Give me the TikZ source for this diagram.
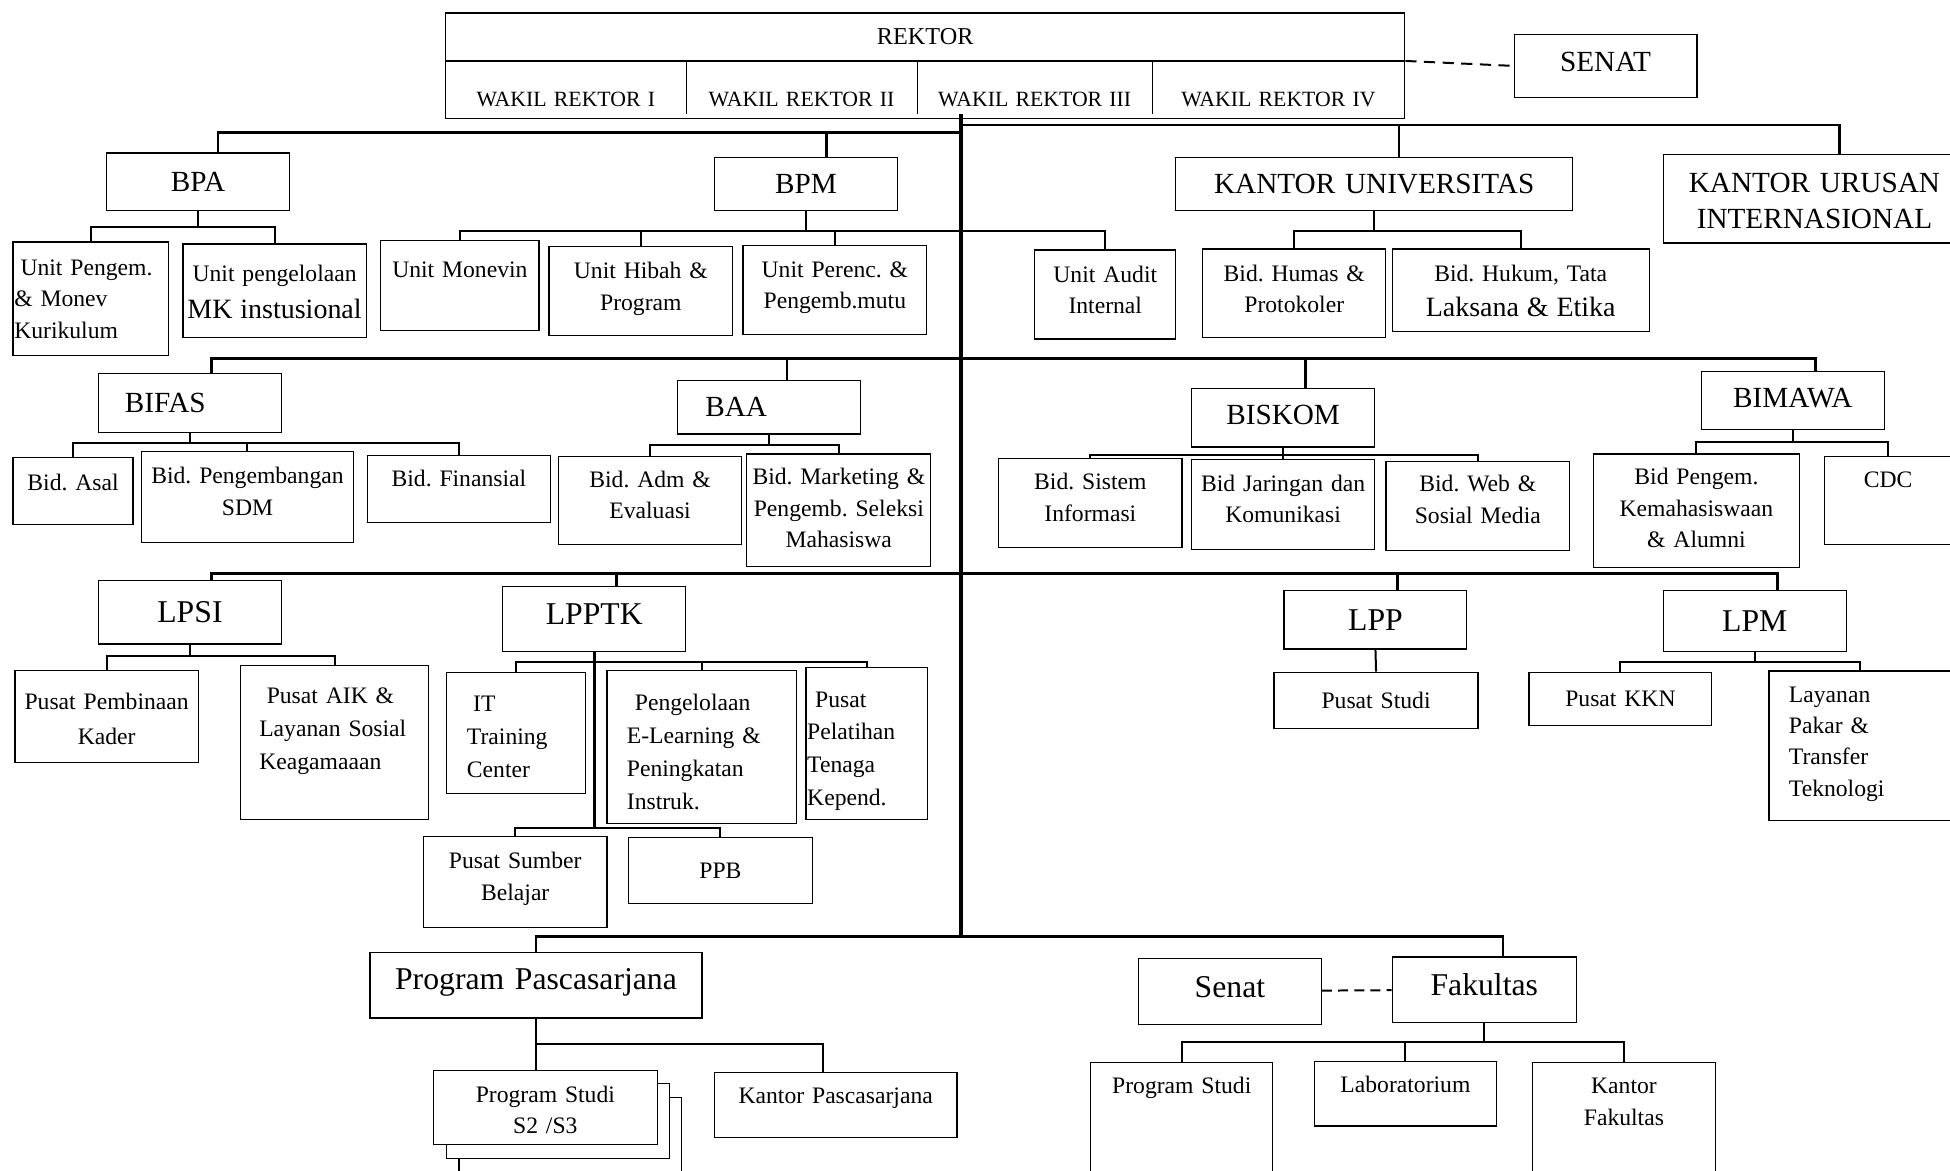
\documentclass[tikz,border=0pt]{standalone}
\usepackage{fontspec}
\setmainfont{Liberation Serif}
\usepackage{tikz}
\frenchspacing

\newcommand\txtS{\fontsize{19}{25.3}\selectfont}
\newcommand\txtSw{\fontsize{19}{26.5}\selectfont}
\newcommand\txtM{\fontsize{23.5}{29}\selectfont}
\newcommand\txtMK{\fontsize{22.5}{28}\selectfont}
\newcommand\txtL{\fontsize{25.5}{30}\selectfont}
\newcommand\txtW{\fontsize{17.5}{21}\selectfont}
\newcommand\txtR{\fontsize{19.5}{24}\selectfont}

\tikzset{
  wh/.style 2 args={minimum width=#1pt, minimum height=#2pt, text width=#1pt-6pt},
  tx/.style 2 args={text height=#1pt, text depth=#2pt}
}

\begin{document}
\begin{tikzpicture}[x=1pt, y=-1pt,
    unitbox/.style={draw, line width=1pt, anchor=north west, inner sep=0pt, align=center, font=\txtS},
    headbox/.style={unitbox, font=\txtM},
    lembbox/.style={unitbox, font=\txtL},
    link/.style={line width=1.6pt},
    bus/.style={line width=2.2pt},
    spine/.style={line width=3pt},
    dash1/.style={line width=1.6pt, dash pattern=on 9pt off 6pt},
    dash2/.style={line width=1.6pt, dash pattern=on 8pt off 5pt}]

  \useasboundingbox (0,0) rectangle (1568,941);

  \node[unitbox, wh={771}{38}, font=\txtR] (rektor) at (358,10) {REKTOR};
  \node[unitbox, wh={771}{47}] (wakil) at (358,48) {};
  \node[unitbox, draw=none, wh={193}{47}, font=\txtW, tx={27}{0}] (wr1) at (358,48) {WAKIL REKTOR I};
  \node[unitbox, draw=none, wh={186}{47}, font=\txtW, tx={27}{0}] (wr2) at (551,48) {WAKIL REKTOR II};
  \node[unitbox, draw=none, wh={189}{47}, font=\txtW, tx={27}{0}] (wr3) at (737,48) {WAKIL REKTOR III};
  \node[unitbox, draw=none, wh={203}{47}, font=\txtW, tx={27}{0}] (wr4) at (926,48) {WAKIL REKTOR IV};
  \foreach \w in {wr1,wr2,wr3}
    \draw[line width=1pt] ([yshift=-1pt]\w.north east) -- ([yshift=4pt]\w.south east);
  \node[headbox, wh={147}{51}, tx={9}{0}] (senat) at (1217,27) {SENAT};

  \node[headbox, wh={147.5}{46.5}] (bpa) at (85,122.5) {BPA};
  \node[headbox, wh={147}{43}] (bpm) at (574,126) {BPM};
  \node[headbox, wh={319}{43}] (ku) at (945,126) {KANTOR UNIVERSITAS};
  \node[headbox, wh={243}{71.3}, tx={0}{10.5}] (kui) at (1337,123.6) {KANTOR URUSAN\\INTERNASIONAL};

  \node[unitbox, wh={125}{91.5}, align=left, text width=123pt, tx={0}{37.5}] (bpa1) at (10,194) {\hspace*{5pt}Unit Pengem.\\\& Monev\\Kurikulum};
  \node[unitbox, wh={147.4}{75.3}, text width=145pt, tx={0}{15.3}] (bpa2) at (146.6,195.7) {Unit pengelolaan\\[5pt]{\txtMK MK instusional}};
  \node[unitbox, wh={127.4}{72}, tx={0}{12}] (bpm1) at (305.6,193) {Unit Monevin};
  \node[unitbox, wh={147.6}{71}, tx={0}{19.4}] (bpm2) at (441,198) {Unit Hibah \&\\Program};
  \node[unitbox, wh={147.6}{71.6}, tx={0}{20.6}] (bpm3) at (597,197) {Unit Perenc. \&\\Pengemb.mutu};
  \node[unitbox, wh={113.5}{71.5}, tx={0}{19.5}] (bpm4) at (831.5,200.5) {Unit Audit\\Internal};
  \node[unitbox, wh={147.2}{71.3}, tx={0}{19.4}] (ku1) at (966.6,199.7) {Bid. Humas \&\\Protokoler};
  \node[unitbox, wh={206.6}{66.3}, tx={0}{14.4}] (ku2) at (1119,199.7) {Bid. Hukum, Tata\\[3pt]{\txtMK Laksana \& Etika}};

  \node[headbox, wh={147.5}{47}, align=left, text width=104.5pt] (bifas) at (78.5,300) {BIFAS};
  \node[headbox, wh={147.6}{42.8}, align=left, text width=102.4pt] (baa) at (544,305.6) {BAA};
  \node[headbox, wh={147.5}{47}, tx={10}{0}] (biskom) at (957.5,312) {BISKOM};
  \node[headbox, wh={147}{47}, tx={11}{0}] (bimawa) at (1367.6,298) {BIMAWA};

  \node[unitbox, wh={96.5}{53.9}, tx={0}{2}] (bif1) at (10,367.6) {Bid. Asal};
  \node[unitbox, wh={170}{73.2}, tx={0}{20.8}] (bif2) at (113.5,362.4) {Bid. Pengembangan\\SDM};
  \node[unitbox, wh={147}{53.8}, tx={0}{4.2}] (bif3) at (295,366) {Bid. Finansial};
  \node[unitbox, wh={147.5}{71.1}, tx={0}{21.4}] (baa1) at (448.5,366.4) {Bid. Adm \&\\Evaluasi};
  \node[unitbox, wh={148}{90.4}, tx={0}{41.2}] (baa2) at (600,364.6) {Bid. Marketing \&\\Pengemb. Seleksi\\Mahasiswa};
  \node[unitbox, wh={147.5}{71.6}, tx={0}{20.6}] (bis1) at (802.5,368) {Bid. Sistem\\Informasi};
  \node[unitbox, wh={147.5}{72.5}, tx={0}{21.5}] (bis2) at (957.5,369) {Bid Jaringan dan\\Komunikasi};
  \node[unitbox, wh={147.6}{71.6}, tx={0}{22.8}] (bis3) at (1114,370.4) {Bid. Web \&\\Sosial Media};
  \node[unitbox, wh={166}{91.1}, tx={0}{41.6}] (bim1) at (1280.6,364.5) {Bid Pengem.\\Kemahasiswaan\\\& Alumni};
  \node[unitbox, wh={102}{71.1}, tx={0}{21.4}] (bim2) at (1466.7,366.4) {CDC};

  \node[lembbox, wh={147.5}{51}] (lpsi) at (78.5,466.4) {LPSI};
  \node[lembbox, wh={147.4}{52.5}, tx={9.5}{0}] (lpptk) at (403.6,471) {LPPTK};
  \node[lembbox, wh={147}{47}] (lpp) at (1032,474.4) {LPP};
  \node[lembbox, wh={147}{49}] (lpm) at (1337,474.4) {LPM};

  \node[unitbox, font=\txtSw, wh={147.5}{73.7}, tx={0}{10.5}] (lps1) at (11.5,538.8) {Pusat Pembinaan\\[1.5pt]Kader};
  \node[unitbox, font=\txtSw, wh={151}{124}, align=left, text width=121pt, tx={0}{62.4}] (lps2) at (193,534.7) {\hspace*{6pt}Pusat AIK \&\\Layanan Sosial\\Keagamaaan};
  \node[unitbox, font=\txtSw, wh={111.4}{97.4}, align=left, text width=78.6pt, tx={0}{34.4}] (lpt1) at (358.6,540) {\hspace*{5pt}IT\\Training\\Center};
  \node[unitbox, font=\txtSw, wh={152.4}{122.7}, align=left, text width=120.4pt, tx={0}{58.3}] (lpt2) at (487.6,538.8) {\hspace*{6.4pt}Pengelolaan\\E-Learning \&\\Peningkatan\\Instruk.};
  \node[unitbox, font=\txtSw, wh={97.4}{122.6}, align=left, text width=95.4pt, tx={0}{58.6}] (lpt3) at (647.6,536) {\hspace*{6.4pt}Pusat\\Pelatihan\\Tenaga\\Kepend.};
  \node[unitbox, wh={147.6}{73.6}, tx={0}{21.2}] (lpt4) at (340,672) {Pusat Sumber\\Belajar};
  \node[unitbox, wh={147.6}{52.8}] (lpt5) at (505,673) {PPB};
  \node[unitbox, wh={164}{45}] (lpp1) at (1024,540) {Pusat Studi};
  \node[unitbox, wh={147}{43}] (lpm1) at (1229,540) {Pusat KKN};
  \node[unitbox, wh={146}{120.4}, align=left, text width=114pt, tx={0}{70.4}] (lpm2) at (1422,539) {Layanan\\Pakar \&\\Transfer\\Teknologi};

  \node[lembbox, wh={267}{52.7}, tx={7.6}{0}] (pps) at (297,765.3) {Program Pascasarjana};
  \node[unitbox, fill=white, wh={179.1}{110}] (ps3) at (368.5,882) {};
  \node[unitbox, fill=white, wh={179.4}{60}] (ps2) at (358.6,871) {};
  \node[unitbox, fill=white, wh={180}{60}, tx={0}{8.4}] (ps1) at (348,860) {Program Studi\\S2 /S3};
  \node[unitbox, wh={195}{52}, tx={0}{1.6}] (pps2) at (574,862) {Kantor Pascasarjana};
  \node[lembbox, wh={147}{53}, tx={9.8}{0}] (senat2) at (915,770) {Senat};
  \node[lembbox, wh={148}{52.5}, tx={9.5}{0}] (fak) at (1119,769) {Fakultas};
  \node[unitbox, wh={146.5}{110}, tx={0}{60}] (fak1) at (876.5,854) {Program Studi};
  \node[unitbox, wh={146}{52}, tx={0}{2.4}] (fak2) at (1056.6,853) {Laboratorium};
  \node[unitbox, wh={147.4}{110}, tx={0}{59.4}] (fak3) at (1231.6,853.7) {Kantor\\Fakultas};

  \coordinate (j1l) at (773,106.7);
  \coordinate (j1r) at (773,100.5);
  \coordinate (j2) at (773,288);
  \coordinate (j3) at (773,461);
  \coordinate (j4) at (773,753);

  \draw[link] (rektor.south west) -- (rektor.south east);
  \draw[spine] (wakil.south -| j4) ++(0,-4) -- (j4);
  \draw[dash1] (rektor.south east) -- (senat.west);
  \draw[dash2] (senat2) -- (fak);

  \foreach \h/\s in {bpa/16, bpm/16.5}
    \draw[bus] (j1l) -| ([xshift=\s pt]\h.north);
  \foreach \h/\s in {ku/20, kui/20}
    \draw[bus] (j1r) -| ([xshift=\s pt]\h.north);
  \foreach \h/\s in {bifas/17.5, baa/14.5, biskom/18, bimawa/18}
    \draw[bus] (j2) -| ([xshift=\s pt]\h.north);
  \foreach \h/\s in {lpsi/17.5, lpptk/18, lpp/18, lpm/18.5}
    \draw[bus] (j3) -| ([xshift=\s pt]\h.north);
  \foreach \h/\s in {pps/0, fak/15}
    \draw[bus] (j4) -| ([xshift=\s pt]\h.north);

  \foreach \c in {bpa1,bpa2} \draw[link] (bpa.south) -- ++(0,12.7) -| (\c.north);
  \foreach \c in {bpm1,bpm2,bpm3,bpm4} \draw[link] (bpm.south) -- ++(0,16) -| (\c.north);
  \foreach \c in {ku1,ku2} \draw[link] (ku.south) -- ++(0,15.4) -| (\c.north);
  \foreach \c in {bif1,bif2,bif3} \draw[link] (bifas.south) -- ++(0,8) -| (\c.north);
  \foreach \c in {baa1,baa2} \draw[link] (baa.south) -- ++(0,8.1) -| (\c.north);
  \foreach \c in {bis1,bis2,bis3} \draw[link] (biskom.south) -- ++(0,5.5) -| (\c.north);
  \foreach \c in {bim1,bim2} \draw[link] (bimawa.south) -- ++(0,9.4) -| (\c.north);
  \foreach \c in {lps1,lps2} \draw[link] (lpsi.south) -- ++(0,9.3) -| (\c.north);
  \foreach \c in {lpt1,lpt2,lpt3} \draw[link] (lpptk.south) -- ++(0,8) -| (\c.north);
  \foreach \c in {lpt4,lpt5} \draw[link] (lpptk.south) -- ++(0,141.2) -| (\c.north);
  \draw[bus] (lpptk.south) -- ++(0,141.2);
  \draw[link] (lpp.south) -- (lpp1.north);
  \foreach \c in {lpm1,lpm2} \draw[link] (lpm.south) -- ++(0,7.6) -| (\c.north);
  \draw[link] (pps.south) -- (pps.south |- ps1.north);
  \draw[link] (pps.south) -- ++(0,20.6) -| ([xshift=-10pt]pps2.north);
  \foreach \c in {fak1,fak2,fak3} \draw[link] (fak.south) -- ++(0,15.5) -| (\c.north);
\end{tikzpicture}
\end{document}
